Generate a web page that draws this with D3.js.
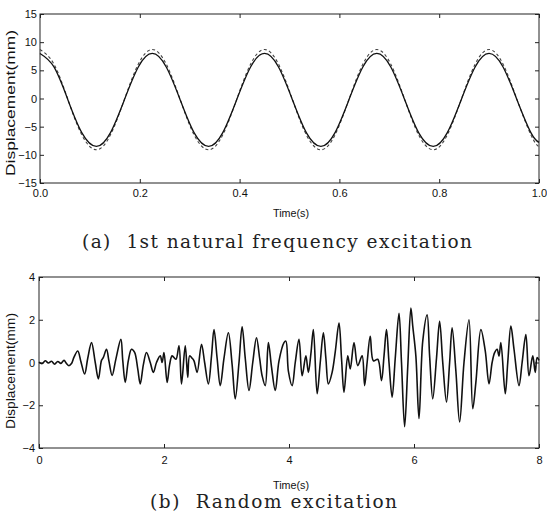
<!DOCTYPE html>
<html>
<head>
<meta charset="utf-8">
<script src="https://cdn.jsdelivr.net/npm/d3@7"></script>
<style>
  body { margin: 0; background: #fff; }
  svg { display: block; }
  text { font-family: "Liberation Sans", Arial, sans-serif; }
  .cap { font-family: "DejaVu Serif", "Liberation Serif", serif; white-space: pre; }
</style>
</head>
<body>
<div id="chart"></div>
<script>
// ─── DATA ───────────────────────────────────────────────────────────────────────
// (a) 1st natural frequency excitation
let timeA = [0, 0.028, 0.056, 0.084, 0.113, 0.141, 0.169, 0.197, 0.225, 0.253, 0.281, 0.309,
  0.338, 0.366, 0.394, 0.422, 0.45, 0.478, 0.506, 0.534, 0.563, 0.591, 0.619, 0.647,
  0.675, 0.703, 0.731, 0.759, 0.788, 0.816, 0.844, 0.872, 0.9, 0.928, 0.956, 0.984, 1.0];
// solid line
let dispSolid = [8.0, 5.6, -0.25, -6.1, -8.5, -6.1, -0.25, 5.6, 8.0, 5.6, -0.25, -6.1,
  -8.5, -6.1, -0.25, 5.6, 8.0, 5.6, -0.25, -6.1, -8.5, -6.1, -0.25, 5.6,
  8.0, 5.6, -0.25, -6.1, -8.5, -6.1, -0.25, 5.6, 8.0, 5.6, -0.25, -6.1, -7.8];
// dashed line
let dispDashed = [8.7, 6.1, -0.2, -6.5, -9.1, -6.5, -0.2, 6.1, 8.7, 6.1, -0.2, -6.5,
  -9.1, -6.5, -0.2, 6.1, 8.7, 6.1, -0.2, -6.5, -9.1, -6.5, -0.2, 6.1,
  8.7, 6.1, -0.2, -6.5, -9.1, -6.5, -0.2, 6.1, 8.7, 6.1, -0.2, -6.5, -8.6];
let ticksXA = [0, 0.2, 0.4, 0.6, 0.8, 1.0];
let ticksYA = [-15, -10, -5, 0, 5, 10, 15];

// (b) Random excitation
let timeB = [0.00, 0.05, 0.10, 0.15, 0.20, 0.25, 0.30, 0.35, 0.40, 0.44, 0.48, 0.52, 0.56, 0.62,
  0.67, 0.73, 0.78, 0.84, 0.90, 0.95, 1.00, 1.03, 1.08, 1.12, 1.17, 1.23, 1.31, 1.34, 1.38,
  1.43, 1.48, 1.53, 1.58, 1.62, 1.67, 1.72, 1.78, 1.83, 1.88, 1.94, 1.97, 2.00, 2.05, 2.09,
  2.13, 2.19, 2.24, 2.28, 2.34, 2.38, 2.41, 2.45, 2.48, 2.53, 2.60, 2.65, 2.71, 2.76, 2.80,
  2.85, 2.90, 2.96, 3.03, 3.09, 3.14, 3.20, 3.25, 3.30, 3.36, 3.42, 3.48, 3.53, 3.57, 3.62,
  3.67, 3.72, 3.78, 3.84, 3.92, 3.95, 3.99, 4.05, 4.10, 4.16, 4.21, 4.27, 4.31, 4.35, 4.39,
  4.45, 4.50, 4.55, 4.59, 4.63, 4.69, 4.74, 4.80, 4.84, 4.88, 4.94, 4.98, 5.04, 5.10, 5.17,
  5.21, 5.25, 5.30, 5.35, 5.42, 5.48, 5.52, 5.56, 5.60, 5.65, 5.70, 5.76, 5.80, 5.85, 5.90,
  5.95, 5.98, 6.03, 6.08, 6.14, 6.21, 6.25, 6.30, 6.36, 6.41, 6.46, 6.52, 6.57, 6.61, 6.67,
  6.73, 6.80, 6.88, 6.94, 6.99, 7.07, 7.14, 7.20, 7.25, 7.29, 7.33, 7.36, 7.39, 7.46, 7.50,
  7.55, 7.60, 7.68, 7.73, 7.79, 7.84, 7.90, 7.94, 7.97, 8.00];
let dispB = [0.02, -0.05, 0.08, -0.02, 0.06, -0.08, 0.05, -0.04, 0.10, -0.05, -0.15, -0.05, 0.25, 0.54,
  0.05, -0.54, 0.2, 0.93, 0.0, -0.77, 0.1, 0.24, 0.62, 0.05, -0.6, 0.16, 1.08, 0.1, -0.93,
  0.1, 0.62, 0.47, -0.3, -1.0, -0.1, 0.47, 0.0, -0.46, 0.0, 0.31, 0.0, 0.47, -0.93, -0.1,
  0.31, 0.15, 0.78, -1.0, 0.78, -0.7, 0.31, 0.2, 0.08, -0.46, 0.85, 0.0, -1.0, 0.3, 1.54,
  0.2, -1.08, 0.2, 1.39, -0.1, -1.7, 0.0, 1.67, 0.2, -1.31, 0.0, 1.16, 0.2, -0.62, -1.08,
  0.93, -0.2, -1.31, 0.08, 0.93, 1.0, -0.4, -1.08, 0.0, 1.08, -0.62, 0.31, -0.46, 0.4, 1.54,
  -1.46, 0.0, 1.39, 0.2, -1.0, -0.46, 0.5, 1.85, 0.2, -1.39, 0.31, -0.3, 0.93, -0.15, 0.31,
  -1.08, 0.0, 1.23, 0.08, 0.15, -0.85, 0.3, 1.54, 0.0, -1.62, 0.2, 2.3, 0.0, -3.0, -0.2,
  2.55, 1.7, 0.3, -2.62, 1.0, 2.23, 0.3, -1.7, 0.2, 1.93, 0.0, -1.85, 0.0, 1.62, -0.4,
  -2.78, 0.0, 2.0, -2.16, -0.93, 1.54, 0.54, -1.0, 0.0, 0.46, 0.62, 0.3, 0.93, -1.46, 0.0,
  1.7, 0.62, -1.08, 0.0, 1.31, -0.62, 0.31, -0.46, 0.23, 0.1];
let ticksXB = [0, 2, 4, 6, 8];
let ticksYB = [-4, -2, 0, 2, 4];

let W = 547, H = 516;

let svg = d3.select('#chart').append('svg')
  .attr('width', W).attr('height', H)
  .style('background', '#fff');

// ─── PANEL HELPER ───────────────────────────────────────────────────────────────
function panel(box, xDom, yDom, xTicks, yTicks, xFmt, yLabelLen, yLabelY) {
  let g = svg.append('g');
  let x = d3.scaleLinear().domain(xDom).range([box.left, box.right]);
  let y = d3.scaleLinear().domain(yDom).range([box.bottom, box.top]);

  // frame
  g.append('rect')
    .attr('x', box.left).attr('y', box.top)
    .attr('width', box.right - box.left).attr('height', box.bottom - box.top)
    .attr('fill', 'none').attr('stroke', '#222').attr('stroke-width', 1);

  // axes, ticks point inward like matlab
  let ax = g.append('g').attr('transform', `translate(0,${box.bottom})`)
    .call(d3.axisBottom(x).tickValues(xTicks).tickFormat(xFmt).tickSizeInner(-4).tickSizeOuter(0).tickPadding(box.xPad));
  let axT = g.append('g').attr('transform', `translate(0,${box.top})`)
    .call(d3.axisTop(x).tickValues(xTicks).tickFormat('').tickSizeInner(-4).tickSizeOuter(0));
  let ay = g.append('g').attr('transform', `translate(${box.left},0)`)
    .call(d3.axisLeft(y).tickValues(yTicks).tickSizeInner(-4).tickSizeOuter(0).tickPadding(box.yPad));
  let ayR = g.append('g').attr('transform', `translate(${box.right},0)`)
    .call(d3.axisRight(y).tickValues(yTicks).tickFormat('').tickSizeInner(-4).tickSizeOuter(0));

  [ax, axT, ay, ayR].forEach(a => {
    a.select('.domain').remove();
    a.selectAll('line').attr('stroke', '#222');
    a.selectAll('text').attr('fill', '#111')
      .style('font-size', '11px')
      .style('font-family', '"Liberation Sans", Arial, sans-serif');
  });

  // y label
  g.append('text')
    .attr('transform', `translate(15,${yLabelY}) rotate(-90)`)
    .attr('text-anchor', 'middle')
    .attr('textLength', yLabelLen).attr('lengthAdjust', 'spacingAndGlyphs')
    .style('font-size', '12.5px').attr('fill', '#111')
    .text('Displacement(mm)');

  return {g, x, y};
}

// ─── (a) ────────────────────────────────────────────────────────────────────────
let pa = panel({left: 40, right: 539, top: 14, bottom: 183, xPad: 6, yPad: 3},
  [0, 1], [-15, 15], ticksXA, ticksYA, d3.format('.1f'), 146, 103);

let lineA = d3.line().curve(d3.curveNatural)
  .x((d, i) => pa.x(timeA[i])).y(d => pa.y(d));

pa.g.append('path').datum(dispDashed)
  .attr('d', lineA).attr('fill', 'none')
  .attr('stroke', '#444').attr('stroke-width', 1.1).attr('stroke-dasharray', '3,2.5');
pa.g.append('path').datum(dispSolid)
  .attr('d', lineA).attr('fill', 'none')
  .attr('stroke', '#111').attr('stroke-width', 1.3);

pa.g.append('text').attr('x', 291).attr('y', 217)
  .attr('text-anchor', 'middle').attr('textLength', 36).attr('lengthAdjust', 'spacingAndGlyphs')
  .style('font-size', '11px').attr('fill', '#111').text('Time(s)');

svg.append('text').attr('class', 'cap')
  .attr('x', 82).attr('y', 248)
  .attr('textLength', 390).attr('lengthAdjust', 'spacing')
  .style('font-size', '18.5px').attr('fill', '#222')
  .text('(a)  1st natural frequency excitation');

// ─── (b) ────────────────────────────────────────────────────────────────────────
let pb = panel({left: 39, right: 539, top: 277, bottom: 448, xPad: 8, yPad: 4},
  [0, 8], [-4, 4], ticksXB, ticksYB, d3.format('d'), 116, 371);

let lineB = d3.line().curve(d3.curveCatmullRom.alpha(0.5))
  .x((d, i) => pb.x(timeB[i])).y(d => pb.y(d));

pb.g.append('path').datum(dispB)
  .attr('d', lineB).attr('fill', 'none')
  .attr('stroke', '#111').attr('stroke-width', 1.6).attr('stroke-linejoin', 'round');

pb.g.append('text').attr('x', 291).attr('y', 489)
  .attr('text-anchor', 'middle').attr('textLength', 36).attr('lengthAdjust', 'spacingAndGlyphs')
  .style('font-size', '11px').attr('fill', '#111').text('Time(s)');

svg.append('text').attr('class', 'cap')
  .attr('x', 150).attr('y', 508)
  .attr('textLength', 247).attr('lengthAdjust', 'spacing')
  .style('font-size', '18.5px').attr('fill', '#222')
  .text('(b)  Random excitation');
</script>
</body>
</html>
